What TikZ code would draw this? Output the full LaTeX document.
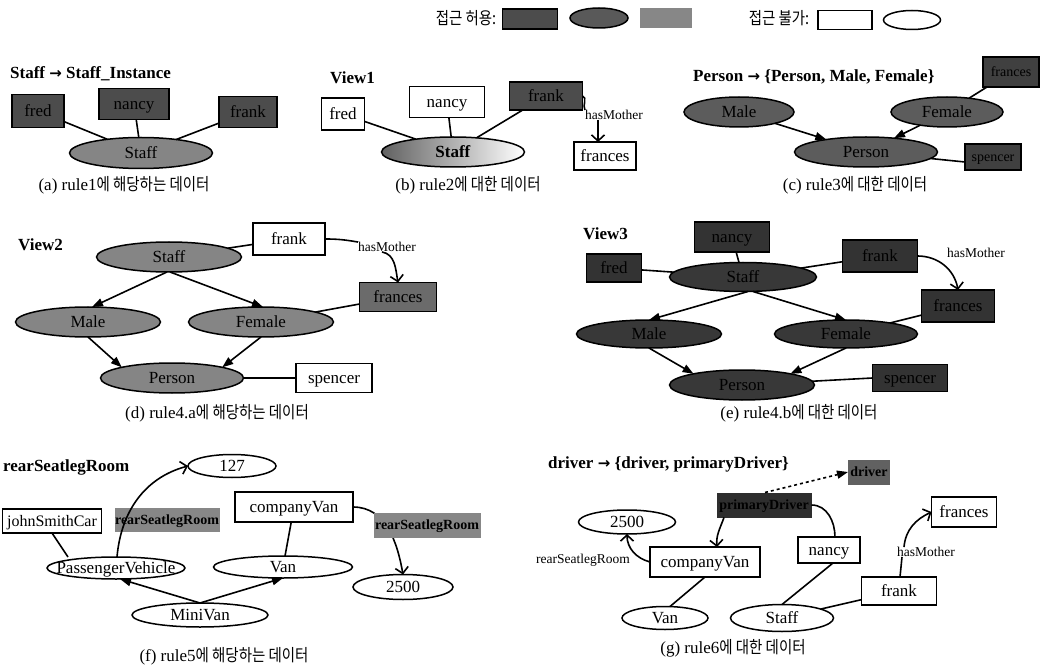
\documentclass[tikz,border=0pt]{standalone}
\usepackage{fontspec}
\setmainfont{Liberation Serif}
\newfontfamily\kr[FakeStretch=0.85]{Noto Sans CJK KR}
\newfontfamily\arrowfont{DejaVu Sans}
\usetikzlibrary{shapes.geometric,arrows.meta}

% node text of zero size, so that each shape keeps exactly its given size
\newcommand{\nl}[1]{\makebox[0pt]{\smash{\raisebox{-0.32em}{#1}}}}
% heavy arrow used in the rule titles
\newcommand{\rarr}{{\arrowfont\bfseries\fontsize{15}{18}\selectfont →}}

\tikzset{
  base/.style={inner sep=0pt, outer sep=0pt, font=\fontsize{17}{20}\selectfont},
  small/.style={font=\fontsize{14}{17}\selectfont},
  wh/.style 2 args={minimum width=#1pt, minimum height=#2pt},
  wbox/.style={base, rectangle, draw, line width=1.5pt, fill=white},
  wov/.style={base, ellipse, draw, line width=1.5pt, fill=white},
  dbox/.style={base, rectangle, draw, line width=1.5pt, fill=black!#1, text=black},
  dbox/.default=70,
  gov/.style={base, ellipse, draw, line width=1.5pt, fill=black!#1, text=black},
  gov/.default=48,
  glab/.style={base, rectangle, fill=black!#1, text=black, font=\bfseries\fontsize{14}{17}\selectfont},
  glab/.default=47,
  lbl/.style={inner sep=0pt, font=\fontsize{13.5}{16}\selectfont},
  ttl/.style={inner sep=0pt, anchor=west, font=\bfseries\fontsize{17}{20}\selectfont},
  captxt/.style={inner sep=0pt, font=\fontsize{17}{20}\selectfont},
  legtxt/.style={inner sep=0pt, font=\kr\fontsize{17}{20}\selectfont},
  conn/.style={line width=1.6pt},
  barb/.style={conn, -{Straight Barb[length=6pt,width=13pt]}},
  tri/.style={conn, -{Triangle[length=11pt,width=8pt]}},
}

\begin{document}
\begin{tikzpicture}[x=1pt,y=1pt]
\useasboundingbox (0,0) rectangle (1044,-668);

% ---------- legend ----------
\node[legtxt] (lg-yes) at (466,-18) {접근 허용:};
\node[dbox, wh={55}{20}] (lg-box) at (530,-19) {};
\node[gov=65, wh={58}{20}] (lg-ov) at (599,-18) {};
\node[glab, wh={52}{20}] (lg-lab) at (666,-18) {};
\node[legtxt] (lg-no) at (779,-18) {접근 불가:};
\node[wbox, wh={54}{19}] (lg-wbox) at (845,-20) {};
\node[wov, wh={57}{19}] (lg-wov) at (912,-20) {};

% ---------- (a) ----------
\node[ttl] (a-t) at (10,-74) {Staff \rarr{} Staff\_Instance};
\node[dbox, wh={52}{33}] (a-fred) at (38,-111) {\nl{fred}};
\node[dbox, wh={70}{31}] (a-nancy) at (134,-104) {\nl{nancy}};
\node[dbox, wh={58}{31}] (a-frank) at (248,-112) {\nl{frank}};
\node[gov, wh={143}{31}] (a-staff) at (141,-153) {\nl{Staff}};
\draw[conn] (a-fred) -- (a-staff);
\draw[conn] (a-nancy) -- (a-staff);
\draw[conn] (a-frank) -- (a-staff);
\node[captxt] (a-cap) at (124,-185) {(a) rule1{\kr 에 해당하는 데이터}};

% ---------- (b) ----------
\node[ttl] (b-t) at (330,-78) {View1};
\node[wbox, wh={43}{32}] (b-fred) at (343,-114) {\nl{fred}};
\node[wbox, wh={75}{31}] (b-nancy) at (447,-102) {\nl{nancy}};
\node[dbox, wh={73}{28}] (b-frank) at (546,-96) {\nl{frank}};
\node[base, ellipse, draw, line width=1.5pt, left color=black!62, right color=white,
      wh={143}{30}] (b-staff) at (453,-152) {\nl{\textbf{Staff}}};
\node[wbox, wh={62}{28}] (b-frances) at (605,-156) {\nl{frances}};
\node[lbl] (b-hm) at (614,-115) {hasMother};
\draw[conn] (b-fred) -- (b-staff);
\draw[conn] (b-nancy) -- (b-staff);
\draw[conn] (b-frank) -- (b-staff);
\draw[conn] (b-frank.east) to[out=-20,in=120] (b-hm.north west);
\draw[barb] ([xshift=-16pt]b-hm.south) -- ([xshift=-7pt]b-frances.north);
\node[captxt] (b-cap) at (468,-185) {(b) rule2{\kr 에 대한 데이터}};

% ---------- (c) ----------
\node[ttl] (c-t) at (693,-77) {Person \rarr{} \{Person, Male, Female\}};
\node[gov=64, wh={110}{30}] (c-male) at (739,-112) {\nl{Male}};
\node[gov=64, wh={112}{30}] (c-female) at (947,-112) {\nl{Female}};
\node[dbox=75, small, wh={56}{30}] (c-frances) at (1011,-72) {\nl{frances}};
\node[gov=64, wh={143}{30}] (c-person) at (866,-152) {\nl{Person}};
\node[dbox=75, small, wh={56}{26}] (c-spencer) at (993,-157) {\nl{spencer}};
\draw[tri] (c-male) -- (c-person);
\draw[tri] (c-female) -- (c-person);
\draw[conn] (c-frances) -- (c-female);
\draw[conn] (c-person) -- ([yshift=-5pt]c-spencer.west);
\node[captxt] (c-cap) at (855,-185) {(c) rule3{\kr 에 대한 데이터}};

% ---------- (d) ----------
\node[ttl] (d-t) at (18,-245) {View2};
\node[wbox, wh={72}{32}] (d-frank) at (289,-239) {\nl{frank}};
\node[gov, wh={145}{30}] (d-staff) at (169,-257) {\nl{Staff}};
\node[lbl] (d-hm) at (387,-247) {hasMother};
\node[dbox=58, wh={77}{29}] (d-frances) at (398,-297) {\nl{frances}};
\node[gov, wh={145}{30}] (d-male) at (88,-322) {\nl{Male}};
\node[gov, wh={145}{30}] (d-female) at (261,-322) {\nl{Female}};
\node[gov, wh={143}{30}] (d-person) at (172,-378) {\nl{Person}};
\node[wbox, wh={76}{29}] (d-spencer) at (334,-378) {\nl{spencer}};
\draw[conn] (d-frank) -- (d-staff);
\draw[conn] (d-frank.east) to[out=0,in=170] (d-hm.north west);
\draw[barb] ([xshift=-5pt]d-hm.south) to[out=-10,in=100] (d-frances.north);
\draw[tri] ([xshift=-2pt]d-staff.south) -- ([xshift=4pt]d-male.north);
\draw[tri] ([xshift=1pt]d-staff.south) -- ([xshift=2pt]d-female.north);
\draw[tri] (d-male.south) -- (d-person.168);
\draw[tri] (d-female.south) -- (d-person.12);
\draw[conn] (d-frances) -- (d-female);
\draw[conn] (d-person) -- (d-spencer);
\node[captxt] (d-cap) at (217,-413) {(d) rule4.a{\kr 에 해당하는 데이터}};

% ---------- (e) ----------
\node[ttl] (e-t) at (583,-234) {View3};
\node[dbox=80, wh={75}{30}] (e-nancy) at (732,-237) {\nl{nancy}};
\node[dbox=80, wh={55}{28}] (e-fred) at (614,-268) {\nl{fred}};
\node[gov=78, wh={147}{29}] (e-staff) at (743,-277) {\nl{Staff}};
\node[dbox=80, wh={75}{32}] (e-frank) at (880,-256) {\nl{frank}};
\node[lbl] (e-hm) at (976,-253) {hasMother};
\node[dbox=80, wh={73}{32}] (e-frances) at (958,-306) {\nl{frances}};
\node[gov=78, wh={145}{28}] (e-male) at (649,-334) {\nl{Male}};
\node[gov=78, wh={143}{28}] (e-female) at (846,-334) {\nl{Female}};
\node[gov=78, wh={145}{30}] (e-person) at (742,-385) {\nl{Person}};
\node[dbox=80, wh={75}{27}] (e-spencer) at (910,-378) {\nl{spencer}};
\draw[conn] (e-fred) -- (e-staff);
\draw[conn] (e-nancy) -- (e-staff);
\draw[conn] (e-frank) -- (e-staff);
\draw[barb] (e-frank.east) to[out=0,in=100] (e-frances.north);
\draw[conn] (e-frances) -- (e-female);
\draw[tri] ([xshift=5pt]e-staff.south) -- (e-male.north);
\draw[tri] ([xshift=10pt]e-staff.south) -- (e-female.north);
\draw[tri] (e-male.south) -- (e-person.167);
\draw[tri] (e-female.south) -- (e-person.13);
\draw[conn] (e-person) -- (e-spencer.west);
\node[captxt] (e-cap) at (799,-413) {(e) rule4.b{\kr 에 대한 데이터}};

% ---------- (f) ----------
\node[ttl] (f-t) at (3,-467) {rearSeatlegRoom};
\node[wov, wh={88}{23}] (f-127) at (232,-466) {\nl{127}};
\node[wbox, wh={99}{24}, font=\fontsize{16}{19}\selectfont] (f-jsc) at (52,-521) {\nl{johnSmithCar}};
\node[glab, wh={105}{24}] (f-rsl) at (167,-520) {\nl{rearSeatlegRoom}};
\node[wov, wh={138}{22}] (f-pv) at (116,-568) {\nl{PassengerVehicle}};
\node[wbox, wh={118}{30}] (f-cv) at (294,-507) {\nl{companyVan}};
\node[wov, wh={139}{22}] (f-van) at (283,-567) {\nl{Van}};
\node[wov, wh={100}{25}] (f-2500) at (403,-587) {\nl{2500}};
\node[wov, wh={136}{24}] (f-mv) at (200,-615) {\nl{MiniVan}};
\draw[conn] (f-jsc.south) -- ([xshift=-48pt]f-pv.north);
\draw[barb] ([xshift=1pt]f-pv.north) to[out=85,in=195] (f-127.west);
\draw[conn] (f-cv) -- (f-van);
\draw[barb] (f-cv.east) to[out=0,in=100] (f-2500.north);
\node[glab, wh={107}{25}] (f-rsl2) at (427,-525) {\nl{rearSeatlegRoom}};
\draw[tri] (f-mv.north) -- ([xshift=4pt]f-pv.south);
\draw[tri] (f-mv.north) -- (f-van.south);
\node[captxt] (f-cap) at (224,-656) {(f) rule5{\kr 에 해당하는 데이터}};

% ---------- (g) ----------
\node[ttl] (g-t) at (548,-464) {driver \rarr{} \{driver, primaryDriver\}};
\node[glab=62, wh={42}{25}] (g-drv) at (869,-472) {\nl{driver}};
\node[glab=82, wh={95}{25}] (g-pd) at (764,-505) {\nl{primaryDriver}};
\node[wov, wh={97}{24}] (g-2500) at (627,-522) {\nl{2500}};
\node[wbox, wh={110}{30}] (g-cv) at (705,-562) {\nl{companyVan}};
\node[lbl] (g-rsl) at (583,-560) {rearSeatlegRoom};
\node[wbox, wh={62}{26}] (g-nancy) at (829,-550) {\nl{nancy}};
\node[wbox, wh={65}{30}] (g-frances) at (964,-512) {\nl{frances}};
\node[lbl] (g-hm) at (926,-552) {hasMother};
\node[wbox, wh={75}{28}] (g-frank) at (899,-591) {\nl{frank}};
\node[wov, wh={86}{23}] (g-van) at (665,-618) {\nl{Van}};
\node[wov, wh={103}{27}] (g-staff) at (782,-618) {\nl{Staff}};
\draw[tri, dashed] ([xshift=1pt]g-pd.north) -- (g-drv.west);
\draw[barb] (g-cv.west) to[out=165,in=-90] (g-2500.south);
\draw[conn] ([xshift=6pt]g-nancy.north) to[out=90,in=0] (g-pd.east);
\draw[barb] ([xshift=-40pt]g-pd.south) to[out=-110,in=95] ([xshift=12pt]g-cv.north);
\draw[conn] ([xshift=1pt]g-frank.north) -- ([xshift=-24pt]g-hm.south);
\draw[barb] ([xshift=-22pt]g-hm.north) to[out=85,in=205] (g-frances.west);
\draw[conn] (g-cv.south) -- ([xshift=5pt]g-van.north);
\draw[conn] ([xshift=4pt]g-nancy.south) -- (g-staff.north);
\draw[conn] (g-frank) -- (g-staff);
\node[captxt] (g-cap) at (733,-648) {(g) rule6{\kr 에 대한 데이터}};
\end{tikzpicture}
\end{document}
